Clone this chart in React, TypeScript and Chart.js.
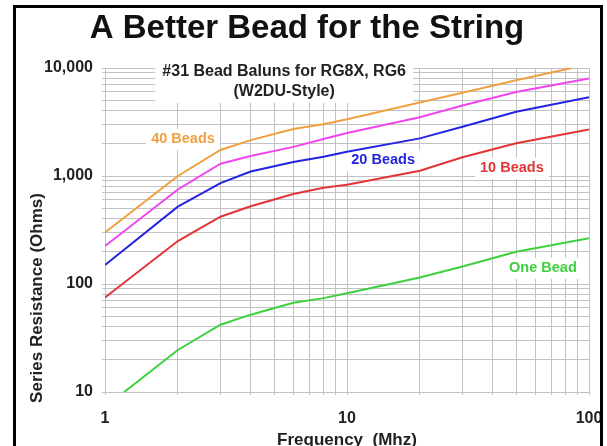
import React, { useEffect, useRef } from 'react';
import { Chart, registerables } from 'chart.js';

Chart.register(...registerables);

const FONT = '"Liberation Sans", Arial, Helvetica, sans-serif';

const chartTitle = 'A Better Bead for the String';
const subtitleLines = ['#31 Bead Baluns for RG8X, RG6', '(W2DU-Style)'];
const subtitleFreq = 5.5;
const subtitleOhms = [9180, 6000];
const xAxisTitle = 'Frequency  (Mhz)';
const yAxisTitle = 'Series Resistance (Ohms)';

const xTickValues = [1, 2, 3, 4, 5, 6, 7, 8, 9, 10, 20, 30, 40, 50, 60, 70, 80, 90, 100];
const xLabelValues = [1, 10, 100];
const xLabelTexts = ['1', '10', '100'];
const yTickValues = [10, 20, 30, 40, 50, 60, 70, 80, 90, 100, 200, 300, 400, 500, 600, 700, 800, 900, 1000, 2000, 3000, 4000, 5000, 6000, 7000, 8000, 9000, 10000];
const yLabelValues = [10, 100, 1000, 10000];
const yLabelTexts = ['10', '100', '1,000', '10,000'];

// series (frequency in MHz, resistance in ohms)
const freq40 = [1, 2, 3, 4, 6, 8, 10, 20, 30, 50, 85];
const ohms40 = [300, 1000, 1740, 2150, 2720, 3020, 3350, 4800, 5900, 7700, 10000];
const freq30 = [1, 2, 3, 4, 6, 8, 10, 20, 30, 50, 100];
const ohms30 = [225, 750, 1300, 1530, 1860, 2200, 2500, 3500, 4500, 6000, 8000];
const freq20 = [1, 2, 3, 4, 6, 8, 10, 20, 30, 50, 100];
const ohms20 = [150, 520, 860, 1100, 1350, 1510, 1680, 2230, 2860, 3940, 5350];
const freq10 = [1, 2, 3, 4, 6, 8, 10, 20, 30, 50, 100];
const ohms10 = [75, 250, 420, 525, 680, 780, 830, 1120, 1490, 2010, 2700];
const freq1 = [1.2, 2, 3, 4, 6, 8, 10, 20, 30, 50, 100];
const ohms1 = [10, 24.5, 42, 52, 67, 74, 82, 115, 145, 199, 265];

const seriesNames = ['40 Beads', '30 Beads', '20 Beads', '10 Beads', 'One Bead'];
const seriesColors = ['#f0a040', '#f046f0', '#2424e0', '#e43434', '#3ed03e'];

const noteTexts = ['40 Beads', '20 Beads', '10 Beads', 'One Bead'];
const noteFreq = [2.1, 14.1, 48, 64.5];
const noteOhms = [2200, 1400, 1190, 141];
const noteColors = ['#f0a040', '#2424e0', '#e43434', '#3ed03e'];

const zip = (xs: number[], ys: number[]) => xs.map((x, i) => ({ x, y: ys[i] }));

const notesPlugin = {
  id: 'notes',
  beforeDatasetsDraw(chart: any) {
    const { ctx, scales } = chart;
    const x = scales.x;
    const y = scales.y;
    ctx.save();
    // subtitle
    ctx.font = `bold 16px ${FONT}`;
    const sx = x.getPixelForValue(subtitleFreq);
    const sy = subtitleOhms.map((v) => y.getPixelForValue(v));
    const w = Math.max(...subtitleLines.map((t) => ctx.measureText(t).width));
    ctx.fillStyle = '#ffffff';
    ctx.fillRect(sx - w / 2 - 7, sy[0] - 13, w + 14, sy[1] - sy[0] + 24);
    ctx.fillStyle = '#222222';
    ctx.textAlign = 'center';
    ctx.textBaseline = 'middle';
    subtitleLines.forEach((t, i) => ctx.fillText(t, sx, sy[i]));
    // series labels
    ctx.font = `bold 14.5px ${FONT}`;
    noteTexts.forEach((t, i) => {
      const px = x.getPixelForValue(noteFreq[i]);
      const py = y.getPixelForValue(noteOhms[i]);
      const tw = ctx.measureText(t).width;
      ctx.fillStyle = '#ffffff';
      ctx.fillRect(px - tw / 2 - 5, py - 10, tw + 10, 21);
      ctx.fillStyle = noteColors[i];
      ctx.fillText(t, px, py);
    });
    ctx.restore();
  },
  afterDraw(chart: any) {
    const { ctx, chartArea } = chart;
    ctx.save();
    ctx.font = `bold 17px ${FONT}`;
    ctx.fillStyle = '#222222';
    ctx.textAlign = 'center';
    ctx.textBaseline = 'middle';
    ctx.translate(chartArea.left - 68, (chartArea.top + chartArea.bottom) / 2 + 68);
    ctx.rotate(-Math.PI / 2);
    ctx.fillText(yAxisTitle, 0, 0);
    ctx.restore();
  },
};

export default function App() {
  const ref = useRef<HTMLCanvasElement | null>(null);

  useEffect(() => {
    if (!ref.current) return;
    const data = [zip(freq40, ohms40), zip(freq30, ohms30), zip(freq20, ohms20), zip(freq10, ohms10), zip(freq1, ohms1)];
    const gridColor = '#c2c2c2';
    const chart = new Chart(ref.current, {
      type: 'line',
      data: {
        datasets: data.map((d, i) => ({
          label: seriesNames[i],
          data: d,
          borderColor: seriesColors[i],
          backgroundColor: seriesColors[i],
          borderWidth: 2,
          pointRadius: 0,
          tension: 0,
          fill: false,
        })),
      },
      options: {
        responsive: false,
        animation: false,
        devicePixelRatio: 1,
        layout: { padding: { left: 15, right: 8, top: 0, bottom: 0 } },
        plugins: {
          legend: { display: false },
          tooltip: { enabled: false },
          title: {
            display: true,
            text: chartTitle,
            color: '#111111',
            font: { family: FONT, size: 33, weight: 'bold', lineHeight: 1.2 },
            padding: { top: 9.2, bottom: 19.2 },
          },
        },
        scales: {
          x: {
            type: 'logarithmic',
            min: 1,
            max: 100,
            afterBuildTicks: (s: any) => {
              s.ticks = xTickValues.map((v) => ({ value: v }));
            },
            afterFit: (s: any) => {
              s.height = 54;
              s.paddingLeft = 0;
              s.paddingRight = 18;
            },
            ticks: {
              autoSkip: false,
              maxRotation: 0,
              padding: 14,
              color: '#222222',
              font: { family: FONT, size: 16, weight: 'bold' },
              callback: (v: any) => {
                const i = xLabelValues.indexOf(Number(v));
                return i >= 0 ? xLabelTexts[i] : '';
              },
            },
            grid: { color: gridColor, lineWidth: 1, drawTicks: true, tickLength: 3 },
            border: { display: true, color: gridColor },
            title: {
              display: true,
              text: xAxisTitle,
              color: '#222222',
              font: { family: FONT, size: 17, weight: 'bold', lineHeight: 1 },
              padding: { top: 0, bottom: -3 },
            },
          },
          y: {
            type: 'logarithmic',
            min: 10,
            max: 10000,
            afterBuildTicks: (s: any) => {
              s.ticks = yTickValues.map((v) => ({ value: v }));
            },
            afterFit: (s: any) => {
              s.width = 90;
            },
            ticks: {
              autoSkip: false,
              padding: 9,
              color: '#222222',
              font: { family: FONT, size: 16, weight: 'bold' },
              callback: (v: any) => {
                const i = yLabelValues.indexOf(Number(v));
                return i >= 0 ? yLabelTexts[i] : '';
              },
            },
            grid: { color: gridColor, lineWidth: 1, drawTicks: true, tickLength: 3 },
            border: { display: true, color: gridColor },
          },
        },
      } as any,
      plugins: [notesPlugin],
    });
    return () => chart.destroy();
  }, []);

  return (
    <div style={{ position: 'fixed', left: 0, top: 0, width: 607, height: 446, background: '#ffffff', overflow: 'hidden' }}>
      <canvas ref={ref} width={607} height={446} style={{ display: 'block', width: 607, height: 446 }} />
      <div
        style={{
          position: 'absolute',
          left: 13,
          top: 5,
          width: 590,
          height: 520,
          boxSizing: 'border-box',
          border: '3px solid #000000',
          pointerEvents: 'none',
        }}
      />
    </div>
  );
}
